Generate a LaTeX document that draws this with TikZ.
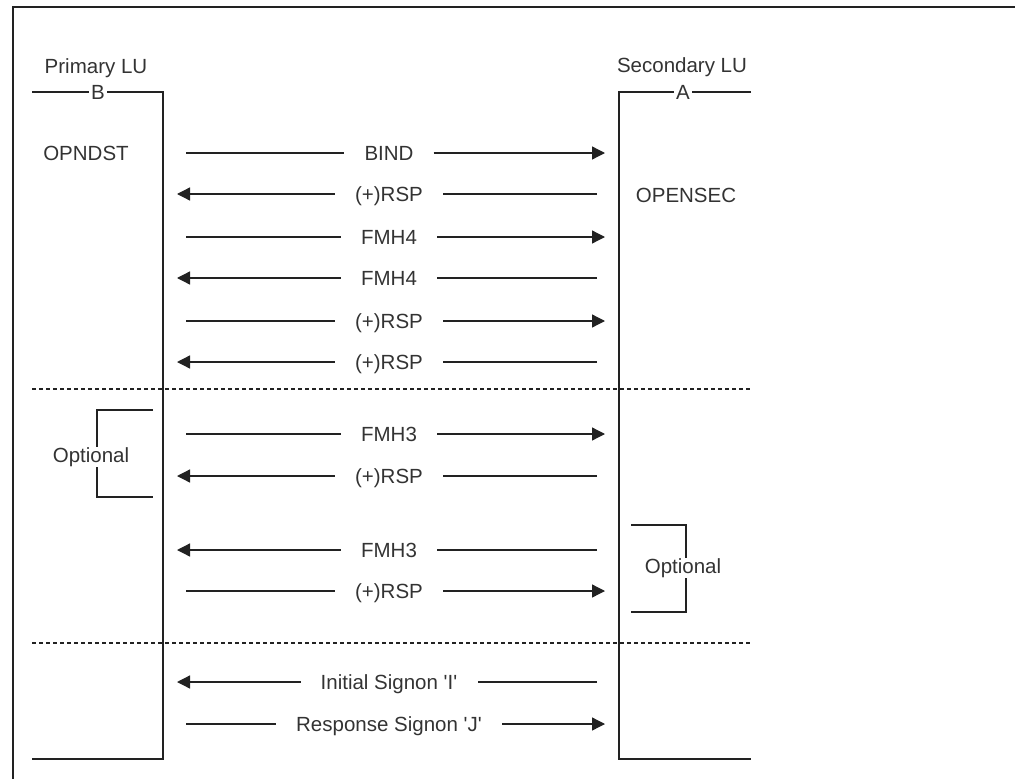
\documentclass[tikz,border=0pt]{standalone}
\usepackage{fontspec}
\setmainfont{Liberation Sans}
\usetikzlibrary{arrows.meta}
\definecolor{ink}{HTML}{222222}
\definecolor{txt}{HTML}{333333}
\begin{document}
\begin{tikzpicture}[x=1pt,y=-1pt,
  every node/.style={font=\fontsize{20.5}{24}\selectfont, text=txt},
  ln/.style={draw=ink, line width=1.3pt},
  life/.style={draw=ink, line width=1.5pt},
  msg/.style={ln, -{Triangle[length=13pt,width=13pt]}},
  lbl/.style={inner xsep=20pt, inner ysep=0pt, text height=14.7pt, text depth=0pt},
  sepline/.style={draw=ink, line width=1.1pt, dash pattern=on 4pt off 3pt},
  plain/.style={inner sep=1pt, text height=14.7pt, text depth=0pt},
  mask/.style={plain, fill=white, inner xsep=2pt},
  optmask/.style={fill=white, inner xsep=1pt, inner ysep=1pt, text height=14.7pt, text depth=4.2pt},
]
\useasboundingbox (0,0) rectangle (1015,779);
% frame
\coordinate (fTR) at (1015,7);
\coordinate (fTL) at (13,7);
\coordinate (fBL) at (13,779);
\draw[draw=ink, line width=1.5pt] (fTR) -- (fTL) -- (fBL);

% primary LU
\node[plain] (pLU) at (96,66) {Primary LU};
\coordinate (pL) at (32,92);
\coordinate (pTop) at (163,92);
\coordinate (pBot) at (163,759);
\coordinate (pBL) at (32,759);
\draw[life] (pL) -- (pTop) -- (pBot) -- (pBL);
\node[mask] (B) at (98,92) {B};
\node[plain] (opndst) at (86,153) {OPNDST};

% secondary LU
\node[plain] (sLU) at (682,65) {Secondary LU};
\coordinate (sR) at (751,92);
\coordinate (sTop) at (619,92);
\coordinate (sBot) at (619,759);
\coordinate (sBR) at (751,759);
\draw[life] (sR) -- (sTop) -- (sBot) -- (sBR);
\node[mask] (A) at (683,92) {A};
\node[plain] (opensec) at (686,195) {OPENSEC};

% separators
\coordinate (d1a) at (32,389); \coordinate (d1b) at (751,389);
\coordinate (d2a) at (32,643); \coordinate (d2b) at (751,643);
\draw[sepline] (d1a) -- (d1b);
\draw[sepline] (d2a) -- (d2b);

% messages to the right
\foreach \n/\y/\t in {1/153/{BIND}, 3/237/{FMH4}, 5/321/{(+)RSP}, 7/434/{FMH3}, 10/591/{(+)RSP}, 12/724/{Response Signon \textquotesingle J\textquotesingle}}{
  \node[lbl] (m\n) at (389,\y) {\t};
  \coordinate (m\n a) at (186,\y);
  \coordinate (m\n b) at (605,\y);
  \draw[ln] (m\n a) -- (m\n.west);
  \draw[msg] (m\n.east) -- (m\n b);
}
% messages to the left
\foreach \n/\y/\t in {2/194/{(+)RSP}, 4/278/{FMH4}, 6/362/{(+)RSP}, 8/476/{(+)RSP}, 9/550/{FMH3}, 11/682/{Initial Signon \textquotesingle I\textquotesingle}}{
  \node[lbl] (m\n) at (389,\y) {\t};
  \coordinate (m\n a) at (177,\y);
  \coordinate (m\n b) at (597,\y);
  \draw[msg] (m\n.west) -- (m\n a);
  \draw[ln] (m\n b) -- (m\n.east);
}

% optional brackets
\coordinate (o1a) at (153,410); \coordinate (o1b) at (97,410);
\coordinate (o1c) at (97,497);  \coordinate (o1d) at (153,497);
\draw[ln] (o1a) -- (o1b) -- (o1c) -- (o1d);
\node[optmask] (opt1) at (91,457) {Optional};

\coordinate (o2a) at (631,525); \coordinate (o2b) at (686,525);
\coordinate (o2c) at (686,612); \coordinate (o2d) at (631,612);
\draw[ln] (o2a) -- (o2b) -- (o2c) -- (o2d);
\node[optmask] (opt2) at (683,568) {Optional};
\end{tikzpicture}
\end{document}
